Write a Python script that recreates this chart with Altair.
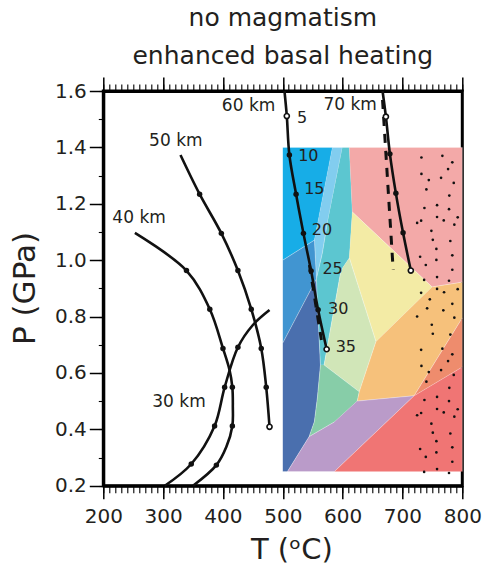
import altair as alt
import pandas as pd

FONT = "DejaVu Sans"
INK = "#231F20"

TITLE_LINES = ["no magmatism", "enhanced basal heating"]
X_TITLE = "T (ᵒC)"
Y_TITLE = "P (GPa)"

T_MAJOR = [200, 300, 400, 500, 600, 700, 800]
T_MINOR = [200, 210, 220, 230, 240, 250, 260, 270, 280, 290, 300, 310, 320, 330, 340, 350,
           360, 370, 380, 390, 400, 410, 420, 430, 440, 450, 460, 470, 480, 490, 500, 510,
           520, 530, 540, 550, 560, 570, 580, 590, 600, 610, 620, 630, 640, 650, 660, 670,
           680, 690, 700, 710, 720, 730, 740, 750, 760, 770, 780, 790, 800]
P_MAJOR = [0.2, 0.4, 0.6, 0.8, 1.0, 1.2, 1.4, 1.6]
P_MINOR = [0.2, 0.3, 0.4, 0.5, 0.6, 0.7, 0.8, 0.9, 1.0, 1.1, 1.2, 1.3, 1.4, 1.5, 1.6]

# ---- phase-field polygons (T degC, P GPa) ----
bright_blue_T = [500, 583, 552.8, 500]
bright_blue_P = [1.4, 1.4, 1.071, 1.0]
light_blue_T = [583, 599.5, 574.5, 566.2, 556.2, 552.8]
light_blue_P = [1.4, 1.4, 1.132, 1.025, 0.933, 1.071]
medium_blue_T = [500, 552.8, 556.2, 500]
medium_blue_P = [1.0, 1.071, 0.933, 0.706]
dark_blue_T = [500, 556.2, 559, 563, 557.8, 552.8, 544, 507.8, 500]
dark_blue_P = [0.706, 0.933, 0.8, 0.628, 0.511, 0.427, 0.374, 0.25, 0.25]
teal_T = [599.5, 611.2, 616.2, 611.2, 597.3, 569, 563, 559, 556.2, 566.2, 574.5]
teal_P = [1.4, 1.4, 1.171, 1.008, 0.964, 0.628, 0.628, 0.8, 0.933, 1.025, 1.132]
pink_T = [611.2, 800, 800, 749.5, 616.2]
pink_P = [1.4, 1.4, 0.922, 0.905, 1.171]
yellow_T = [616.2, 749.5, 655.7, 611.2]
yellow_P = [1.171, 0.905, 0.711, 1.008]
light_green_T = [611.2, 655.7, 627.8, 569, 597.3]
light_green_P = [1.008, 0.711, 0.533, 0.628, 0.964]
mint_T = [569, 627.8, 624.5, 586.2, 544, 552.8, 557.8, 563]
mint_P = [0.628, 0.533, 0.5, 0.426, 0.374, 0.427, 0.511, 0.628]
orange_T = [749.5, 800, 800, 719.5, 624.5, 627.8, 655.7]
orange_P = [0.905, 0.922, 0.795, 0.519, 0.5, 0.533, 0.711]
dark_orange_T = [719.5, 800, 800]
dark_orange_P = [0.519, 0.795, 0.621]
purple_T = [624.5, 719.5, 586.2, 507.8, 544, 586.2]
purple_P = [0.5, 0.519, 0.25, 0.25, 0.374, 0.426]
red_T = [586.2, 719.5, 800, 800]
red_P = [0.25, 0.519, 0.621, 0.25]

FIELDS = [
    ("bright_blue", "#17ADE7", bright_blue_T, bright_blue_P),
    ("light_blue", "#82CDEF", light_blue_T, light_blue_P),
    ("medium_blue", "#4195D1", medium_blue_T, medium_blue_P),
    ("dark_blue", "#4A6FAE", dark_blue_T, dark_blue_P),
    ("teal", "#5CC6D0", teal_T, teal_P),
    ("pink", "#F3A9A8", pink_T, pink_P),
    ("yellow", "#F3EBA5", yellow_T, yellow_P),
    ("light_green", "#D1E6B8", light_green_T, light_green_P),
    ("mint", "#87CDA8", mint_T, mint_P),
    ("orange", "#F6C17B", orange_T, orange_P),
    ("dark_orange", "#EE8C6D", dark_orange_T, dark_orange_P),
    ("purple", "#BA9BC9", purple_T, purple_P),
    ("red", "#F07574", red_T, red_P),
]

# ---- stipple dots ----
stipple_T = [731.7, 766.7, 783.3, 776.2, 731.7, 744, 764.5, 785.7, 740, 778.3, 757.8, 736.7, 777.8,
             757.8, 769, 792.3, 731.2, 724.5, 786.7, 748.3, 750.7, 780, 756.7, 729.5, 783.3, 756.7,
             739, 783.3, 757.8, 736.2, 777.8, 757.8, 769.5, 792.3, 731.2, 745.7, 783.3, 741.2, 768.3,
             724.5, 786.7, 749, 750.7, 780, 731.2, 766.7, 783.3, 776.2, 731.7, 744, 764.5, 785.7, 740,
             778.3, 757.8, 736.7, 777.8, 757.8, 769, 792.3, 731.2, 724.5, 786.7, 748.3, 750.7, 780,
             756.7, 729.5, 783.3, 756.7, 739, 783.3, 757.8, 736.2, 777.8]
stipple_P = [1.364, 1.370, 1.347, 1.323, 1.306, 1.284, 1.292, 1.274, 1.251, 1.229, 1.195, 1.185, 1.181,
             1.153, 1.141, 1.152, 1.140, 1.132, 1.126, 1.104, 1.072, 1.068, 1.040, 1.012, 1.017, 1.001,
             0.983, 0.966, 0.940, 0.930, 0.927, 0.898, 0.886, 0.897, 0.884, 0.861, 0.845, 0.829, 0.822,
             0.800, 0.796, 0.771, 0.739, 0.736, 0.682, 0.686, 0.666, 0.642, 0.625, 0.603, 0.610, 0.593,
             0.569, 0.547, 0.515, 0.504, 0.500, 0.472, 0.460, 0.471, 0.458, 0.450, 0.445, 0.420, 0.388,
             0.385, 0.358, 0.330, 0.336, 0.318, 0.302, 0.285, 0.259, 0.249, 0.245]

# ---- P-T paths ----
path30_T = [302.8, 347, 386, 402.8, 425, 450, 477.8]
path30_P = [0.2, 0.277, 0.412, 0.549, 0.691, 0.77, 0.823]
path40_T = [252.8, 339, 378, 400, 411, 415.7, 416.5, 415.7, 405.7, 389, 350]
path40_P = [1.097, 0.963, 0.826, 0.687, 0.61, 0.549, 0.48, 0.412, 0.338, 0.273, 0.2]
path50_T = [329, 361, 397.3, 425, 447.3, 464, 472.3, 477.8]
path50_P = [1.373, 1.234, 1.095, 0.963, 0.826, 0.687, 0.549, 0.409]
path60_T = [502.8, 506.7, 511, 522.2, 534.5, 547.3, 559, 573.3]
path60_P = [1.6, 1.511, 1.373, 1.234, 1.095, 0.962, 0.824, 0.684]
path70_T = [666.7, 672.3, 679, 689, 701, 714]
path70_P = [1.6, 1.509, 1.377, 1.237, 1.097, 0.963]
dash60_T = [544.5, 564.5]
dash60_P = [0.983, 0.717]
dash70_T = [666.7, 684.5]
dash70_P = [1.568, 0.965]

dot_T = [347, 386, 402.8, 425,
         389, 415.7, 415.7, 400, 378, 339,
         361, 397.3, 425, 447.3, 464, 472.3,
         511, 522.2, 534.5, 547.3, 559,
         679, 689, 701]
dot_P = [0.277, 0.412, 0.549, 0.691,
         0.273, 0.412, 0.549, 0.687, 0.826, 0.963,
         1.234, 1.095, 0.963, 0.826, 0.687, 0.549,
         1.373, 1.234, 1.095, 0.962, 0.824,
         1.377, 1.237, 1.097]
open_T = [477.8, 506.7, 573.3, 672.3, 714]
open_P = [0.409, 1.511, 0.684, 1.509, 0.963]

km_labels = ["60 km", "70 km", "50 km", "40 km", "30 km"]
km_T = [442.8, 612.5, 321.2, 259.8, 326.5]
km_P = [1.548, 1.55, 1.423, 1.148, 0.498]

step_labels = ["5", "10", "15", "20", "25", "30", "35"]
step_T = [523.8, 525.7, 535.7, 548.3, 566.2, 575.7, 588.3]
step_P = [1.506, 1.370, 1.252, 1.106, 0.968, 0.828, 0.691]

# ---- tables ----
poly_rows = []
for name, col, ts, ps in FIELDS:
    for i, (t, p) in enumerate(zip(ts, ps)):
        poly_rows.append({"field": name, "color": col, "i": i, "T": t, "P": p})
poly_df = pd.DataFrame(poly_rows)

path_rows = []
for name, ts, ps in [("30", path30_T, path30_P), ("40", path40_T, path40_P),
                     ("50", path50_T, path50_P), ("60", path60_T, path60_P),
                     ("70", path70_T, path70_P)]:
    for i, (t, p) in enumerate(zip(ts, ps)):
        path_rows.append({"path": name, "i": i, "T": t, "P": p})
path_df = pd.DataFrame(path_rows)

dash_rows = []
for name, ts, ps in [("60", dash60_T, dash60_P), ("70", dash70_T, dash70_P)]:
    for i, (t, p) in enumerate(zip(ts, ps)):
        dash_rows.append({"path": name, "i": i, "T": t, "P": p})
dash_df = pd.DataFrame(dash_rows)

stip_df = pd.DataFrame({"T": stipple_T, "P": stipple_P})
dot_df = pd.DataFrame({"T": dot_T, "P": dot_P})
open_df = pd.DataFrame({"T": open_T, "P": open_P})
km_df = pd.DataFrame({"label": km_labels, "T": km_T, "P": km_P})
step_df = pd.DataFrame({"label": step_labels, "T": step_T, "P": step_P})

xs = alt.Scale(domain=[200, 800], nice=False, zero=False)
ys = alt.Scale(domain=[0.2, 1.6], nice=False, zero=False)

common_axis = dict(domainColor="black", domainWidth=3, tickColor="black", grid=False,
                   labelFont=FONT, labelColor=INK, labelFontSize=20, titleFont=FONT,
                   titleColor=INK, titleFontWeight="normal", labelFlush=False)

x_bottom_major = alt.Axis(orient="bottom", values=T_MAJOR, format="d", tickSize=13, tickWidth=1.5,
                          labelPadding=8, labelOverlap=False, title=X_TITLE, titleFontSize=29,
                          titleX=188, titleY=72.5, titleBaseline="alphabetic", titleAlign="center",
                          **common_axis)
x_bottom_minor = alt.Axis(orient="bottom", values=T_MINOR, tickSize=7, tickWidth=1.1, labels=False,
                          domain=False, title=None, grid=False, tickColor="black")
x_top_major = alt.Axis(orient="top", values=T_MAJOR, tickSize=14, tickWidth=1.5, labels=False,
                       domainWidth=3, domainColor="black", title=None, grid=False, tickColor="black")
x_top_minor = alt.Axis(orient="top", values=T_MINOR, tickSize=7, tickWidth=1.1, labels=False,
                       domain=False, title=None, grid=False, tickColor="black")
y_left_major = alt.Axis(orient="left", values=P_MAJOR, format=".1f", tickSize=14, tickWidth=1.5,
                        labelPadding=3, labelOverlap=False, title=Y_TITLE, titleFontSize=31,
                        titleAngle=270, titleX=-69, titleY=197, titleBaseline="alphabetic",
                        titleAlign="center", **common_axis)
y_left_minor = alt.Axis(orient="left", values=P_MINOR, tickSize=5, tickWidth=1.1, labels=False,
                        domain=False, title=None, grid=False, tickColor="black")

def X(axis=None):
    return alt.X("T:Q", scale=xs, axis=axis)

def Y(axis=None):
    return alt.Y("P:Q", scale=ys, axis=axis)

polys = alt.Chart(poly_df).mark_line(filled=True, stroke="white", strokeWidth=0.5,
                                     strokeOpacity=0.5).encode(
    x=X(x_bottom_major), y=Y(y_left_major),
    color=alt.Color("color:N", scale=None), detail="field:N", order="i:Q")

stip = alt.Chart(stip_df).mark_circle(size=7, color="#111111", opacity=1).encode(
    x=X(x_bottom_minor), y=Y(y_left_minor))

dashes = alt.Chart(dash_df).mark_line(color="#111111", strokeWidth=3, strokeDash=[9, 8]).encode(
    x=X(x_top_major), y=Y(), detail="path:N", order="i:Q")

paths = alt.Chart(path_df).mark_line(color="#111111", strokeWidth=2.6,
                                     interpolate="catmull-rom").encode(
    x=X(x_top_minor), y=Y(), detail="path:N", order="i:Q")

dots = alt.Chart(dot_df).mark_point(filled=True, size=30, color="#111111", opacity=1).encode(
    x=X(), y=Y())

opens = alt.Chart(open_df).mark_point(filled=True, size=26, fill="white", stroke="#111111",
                                      strokeWidth=1.6, opacity=1).encode(x=X(), y=Y())

kms = alt.Chart(km_df).mark_text(font=FONT, fontSize=17, color=INK, align="center",
                                 baseline="middle").encode(x=X(), y=Y(), text="label:N")

steps = alt.Chart(step_df).mark_text(font=FONT, fontSize=16, color=INK, align="left",
                                     baseline="middle").encode(x=X(), y=Y(), text="label:N")

chart = alt.layer(polys, stip, dashes, paths, dots, opens, kms, steps).resolve_axis(
    x="independent", y="independent"
).properties(
    width=359, height=394.7,
    autosize=alt.AutoSizeParams(type="none"),
    padding={"left": 103.3, "top": 91, "right": 21.7, "bottom": 80.3},
    title=alt.TitleParams(text=TITLE_LINES, font=FONT, fontSize=25, fontWeight="normal",
                          color=INK, anchor="middle", lineHeight=38, offset=7),
    background="white",
).configure_view(stroke="black", strokeWidth=3)

chart.save("out.html", embed_options={"renderer": "svg", "actions": False})
